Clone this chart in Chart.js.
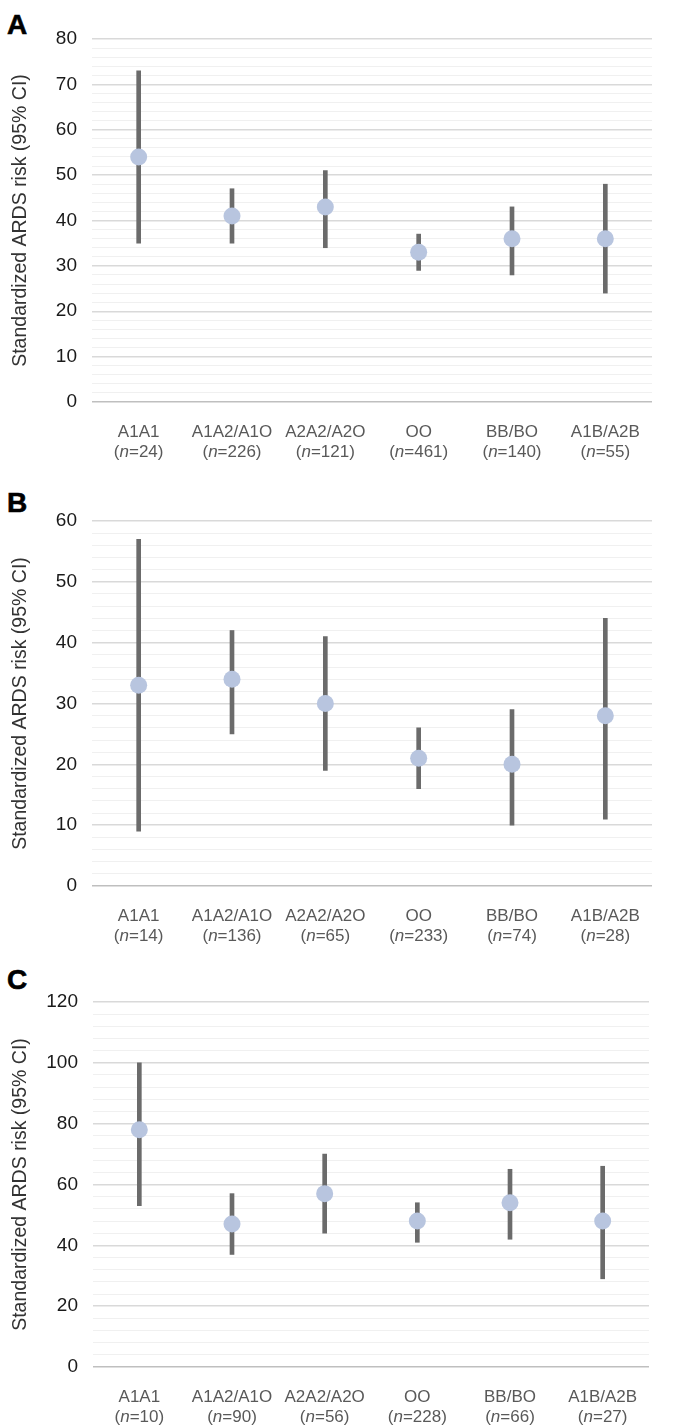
<!DOCTYPE html>
<html>
<head>
<meta charset="utf-8">
<script src="https://cdn.jsdelivr.net/npm/chart.js@4/dist/chart.umd.min.js"></script>
<style>
  body { margin: 0; background: #fff; width: 679px; height: 1428px; position: relative; overflow: hidden; }
  .panel { position: absolute; left: 0; width: 679px; }
  .letter { position: absolute; left: 7px; font: bold 28px "Liberation Sans", Arial, sans-serif; line-height: 1; color: #000; -webkit-text-stroke: 0.6px #000; }
</style>
</head>
<body>
<div class="letter" style="top:11px">A</div>
<div class="letter" style="top:489px">B</div>
<div class="letter" style="top:966px">C</div>
<div class="panel" style="top:0px;height:470px"><canvas id="chartA"></canvas></div>
<div class="panel" style="top:482px;height:472px"><canvas id="chartB"></canvas></div>
<div class="panel" style="top:963px;height:472px"><canvas id="chartC"></canvas></div>
<script>
// groups (same in all three panels)
const categories = ["A1A1", "A1A2/A1O", "A2A2/A2O", "OO", "BB/BO", "A1B/A2B"];

// panel A
const nA = [24, 226, 121, 461, 140, 55];
const riskA = [54, 41, 43, 33, 36, 36];
const lowA = [35, 35, 34, 29, 28, 24];
const highA = [73, 47, 51, 37, 43, 48];

// panel B
const nB = [14, 136, 65, 233, 74, 28];
const riskB = [33, 34, 30, 21, 20, 28];
const lowB = [9, 25, 19, 16, 10, 11];
const highB = [57, 42, 41, 26, 29, 44];

// panel C
const nC = [10, 90, 56, 228, 66, 27];
const riskC = [78, 47, 57, 48, 54, 48];
const lowC = [53, 37, 44, 41, 42, 29];
const highC = [100, 57, 70, 54, 65, 66];

const yTitle = "Standardized ARDS risk (95% CI)";
const FONT = "'Liberation Sans', Arial, sans-serif";

// two-line category labels with italic n
const groupLabels = {
  id: "groupLabels",
  afterDraw(chart, args, opts) {
    const c = chart.ctx;
    const xs = chart.scales.x;
    const base = chart.chartArea.bottom;
    c.save();
    c.fillStyle = "#595959";
    c.textBaseline = "middle";
    categories.forEach((cat, i) => {
      const x = xs.getPixelForValue(i);
      c.font = "17px " + FONT;
      c.textAlign = "center";
      c.fillText(cat, x, base + 30);
      // second line: (n=..)
      const a = "(", b = "n", rest = "=" + opts.n[i] + ")";
      const fN = "17px " + FONT, fI = "italic 17px " + FONT;
      c.font = fN; const wa = c.measureText(a).width, wr = c.measureText(rest).width;
      c.font = fI; const wb = c.measureText(b).width;
      let left = x - (wa + wb + wr) / 2;
      c.textAlign = "left";
      c.font = fN; c.fillText(a, left, base + 50);
      c.font = fI; c.fillText(b, left + wa, base + 50);
      c.font = fN; c.fillText(rest, left + wa + wb, base + 50);
    });
    c.restore();
  }
};

function makeChart(id, risk, low, high, n, yMax, step, major, leftW, rightPad) {
  const ctx = document.getElementById(id).getContext("2d");
  return new Chart(ctx, {
    type: "bar",
    data: {
      labels: categories,
      datasets: [
        {
          type: "line",
          data: risk,
          showLine: false,
          pointRadius: 8.5,
          pointHoverRadius: 8.5,
          pointBackgroundColor: "#b8c5df",
          pointBorderWidth: 0,
          order: 0
        },
        {
          type: "bar",
          data: low.map((l, i) => [l, high[i]]),
          backgroundColor: "#6b6b6b",
          borderWidth: 0,
          borderSkipped: false,
          barThickness: 4,
          order: 1
        }
      ]
    },
    options: {
      responsive: true,
      maintainAspectRatio: false,
      animation: false,
      layout: { padding: { top: 39, bottom: 68, left: 0, right: rightPad } },
      plugins: {
        legend: { display: false },
        tooltip: { enabled: false },
        groupLabels: { n: n }
      },
      scales: {
        x: { display: false, offset: true },
        y: {
          min: 0,
          max: yMax,
          afterFit: (s) => { s.width = leftW; },
          border: { display: false },
          grid: {
            drawTicks: false,
            color: (c) => c.tick.value === 0 ? "#bfbfbf" : (c.tick.value % major === 0 ? "#d9d9d9" : "#f0f0f0"),
            lineWidth: (c) => c.tick.value % major === 0 ? 1.5 : 1
          },
          ticks: {
            stepSize: step,
            autoSkip: false,
            padding: 15,
            color: "#1a1a1a",
            font: { family: FONT, size: 19 },
            callback: (v) => v % major === 0 ? v : ""
          },
          title: {
            display: true,
            text: yTitle,
            color: "#333",
            font: { family: FONT, size: 19.5 },
            padding: { top: 9, bottom: 0 }
          }
        }
      }
    },
    plugins: [groupLabels]
  });
}

makeChart("chartA", riskA, lowA, highA, nA, 80, 2, 10, 92, 27);
makeChart("chartB", riskB, lowB, highB, nB, 60, 2, 10, 92, 27);
makeChart("chartC", riskC, lowC, highC, nC, 120, 4, 20, 93, 30);
</script>
</body>
</html>
